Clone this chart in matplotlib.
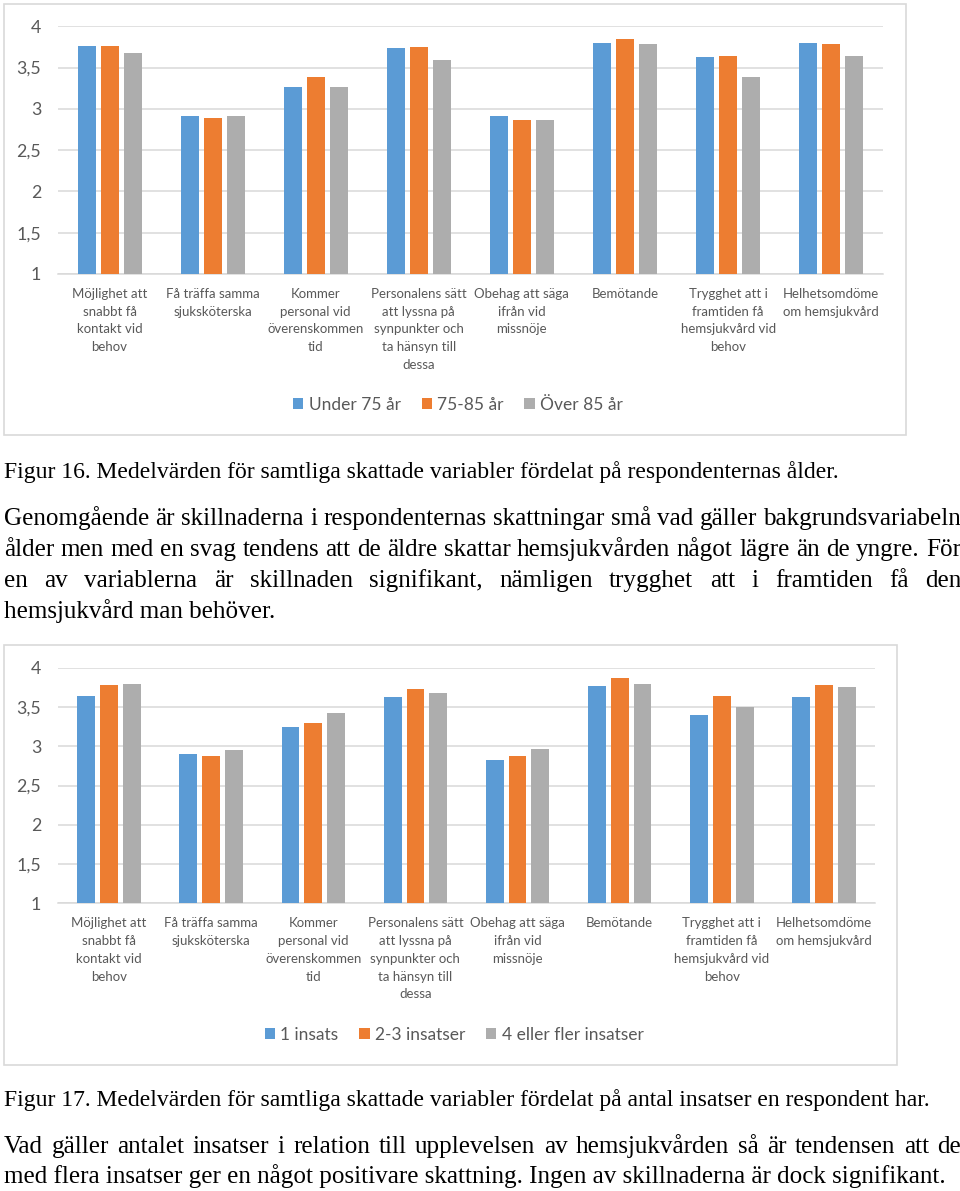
import matplotlib
matplotlib.use("Agg")
import matplotlib.pyplot as plt
from matplotlib.patches import Rectangle, Patch
import numpy as np

categories = [
    "Möjlighet att\nsnabbt få\nkontakt vid\nbehov",
    "Få träffa samma\nsjuksköterska",
    "Kommer\npersonal vid\növerenskommen\ntid",
    "Personalens sätt\natt lyssna på\nsynpunkter och\nta hänsyn till\ndessa",
    "Obehag att säga\nifrån vid\nmissnöje",
    "Bemötande",
    "Trygghet att i\nframtiden få\nhemsjukvård vid\nbehov",
    "Helhetsomdöme\nom hemsjukvård",
]

age_labels = ["Under 75 år", "75-85 år", "Över 85 år"]
age_under75 = [3.76, 2.91, 3.27, 3.74, 2.91, 3.80, 3.63, 3.80]
age_75_85 = [3.76, 2.89, 3.38, 3.75, 2.87, 3.85, 3.64, 3.79]
age_over85 = [3.68, 2.91, 3.26, 3.59, 2.87, 3.79, 3.38, 3.64]

ins_labels = ["1 insats", "2-3 insatser", "4 eller fler insatser"]
ins_1 = [3.64, 2.90, 3.25, 3.63, 2.83, 3.77, 3.40, 3.63]
ins_2_3 = [3.78, 2.87, 3.29, 3.73, 2.87, 3.87, 3.64, 3.78]
ins_4plus = [3.79, 2.95, 3.42, 3.68, 2.97, 3.79, 3.50, 3.76]

yticks = [1, 1.5, 2, 2.5, 3, 3.5, 4]
ytick_labels = ["1", "1,5", "2", "2,5", "3", "3,5", "4"]

caption1 = "Figur 16. Medelvärden för samtliga skattade variabler fördelat på respondenternas ålder."
para1 = [
    "Genomgående är skillnaderna i respondenternas skattningar små vad gäller bakgrundsvariabeln",
    "ålder men med en svag tendens att de äldre skattar hemsjukvården något lägre än de yngre. För",
    "en av variablerna är skillnaden signifikant, nämligen trygghet att i framtiden få den",
    "hemsjukvård man behöver.",
]
caption2 = "Figur 17. Medelvärden för samtliga skattade variabler fördelat på antal insatser en respondent har."
para2 = [
    "Vad gäller antalet insatser i relation till upplevelsen av hemsjukvården så är tendensen att de",
    "med flera insatser ger en något positivare skattning. Ingen av skillnaderna är dock signifikant.",
]

COLORS = ["#5B9BD5", "#ED7D31", "#ADADAD"]
W, H = 960, 1191
fig = plt.figure(figsize=(W / 100, H / 100), dpi=100)
SANS = ["Lato", "DejaVu Sans"]
SERIF = ["Liberation Serif", "DejaVu Serif"]


def fx(px):
    return px / W


def fy(py):
    return 1 - py / H


def add_ax(left, top, right, bottom):
    return fig.add_axes([fx(left), fy(bottom), fx(right) - fx(left), fy(top) - fy(bottom)])


def box(left, top, right, bottom):
    fig.patches.append(Rectangle((fx(left), fy(bottom)), fx(right) - fx(left), fy(top) - fy(bottom),
                                 transform=fig.transFigure, fill=False, edgecolor="#D9D9D9", lw=1.2))


def chart(ax, series, labels, legend_y, legend_x):
    x = np.arange(len(categories))
    off = 0.223
    w = 0.175
    handles = []
    for i, (vals, col) in enumerate(zip(series, COLORS)):
        ax.bar(x + (i - 1) * off, vals, width=w, color=col, zorder=3)
        handles.append(Patch(facecolor=col, edgecolor="none", label=labels[i]))
    ax.set_xlim(-0.5, len(categories) - 0.5)
    ax.set_ylim(1, 4)
    ax.set_yticks(yticks)
    ax.set_yticklabels(ytick_labels, fontsize=12.8, color="#595959", family=SANS)
    ax.grid(axis="y", color="#D9D9D9", lw=1.1, zorder=0)
    for s in ["left", "right", "top"]:
        ax.spines[s].set_visible(False)
    ax.spines["bottom"].set_color("#D9D9D9")
    ax.spines["bottom"].set_linewidth(1.1)
    ax.tick_params(axis="y", length=0, pad=12)
    ax.tick_params(axis="x", length=0, pad=10)
    ax.set_xticks(x)
    ax.set_xticklabels(categories, fontsize=9.5, color="#595959", family=SANS, linespacing=1.58)
    fig.legend(handles=handles, loc="center", bbox_to_anchor=(fx(legend_x), fy(legend_y)),
               ncol=3, frameon=False, prop={"family": SANS, "size": 12.5},
               labelcolor="#595959", handlelength=0.6, handleheight=0.6,
               handletextpad=0.3, columnspacing=1.2, borderpad=0)


# Chart 1
box(4, 4, 906, 435)
ax1 = add_ax(58, 26.3, 882.7, 274)
chart(ax1, [age_under75, age_75_85, age_over85], age_labels, 405, 458)

# Chart 2
box(4, 645, 897, 1065)
ax2 = add_ax(58, 667.7, 875, 903.3)
chart(ax2, [ins_1, ins_2_3, ins_4plus], ins_labels, 1035, 454)

fig.canvas.draw()
renderer = fig.canvas.get_renderer()
TSIZE = 18.1
CSIZE = 17.0


def text_line(s, y, justify=False, x0=4, x1=961, size=TSIZE):
    yb = fy(y + 7)
    if not justify:
        fig.text(fx(x0), yb, s, family=SERIF, fontsize=size, va="baseline", ha="left", color="black")
        return
    words = s.split(" ")
    ts = [fig.text(0, yb, wd, family=SERIF, fontsize=size, va="baseline", ha="left", color="black")
          for wd in words]
    widths = [t.get_window_extent(renderer).width for t in ts]
    gap = (x1 - x0 - sum(widths)) / (len(words) - 1)
    xc = x0
    for t, wdt in zip(ts, widths):
        t.set_x(fx(xc))
        xc += wdt + gap


text_line(caption1, 471, size=CSIZE)
for i, line in enumerate(para1):
    text_line(line, 518 + 31 * i, justify=(i < len(para1) - 1))
text_line(caption2, 1099, size=CSIZE)
for i, line in enumerate(para2):
    text_line(line, 1146 + 30.5 * i, justify=(i < len(para2) - 1))

fig.savefig("out.png", dpi=100)
